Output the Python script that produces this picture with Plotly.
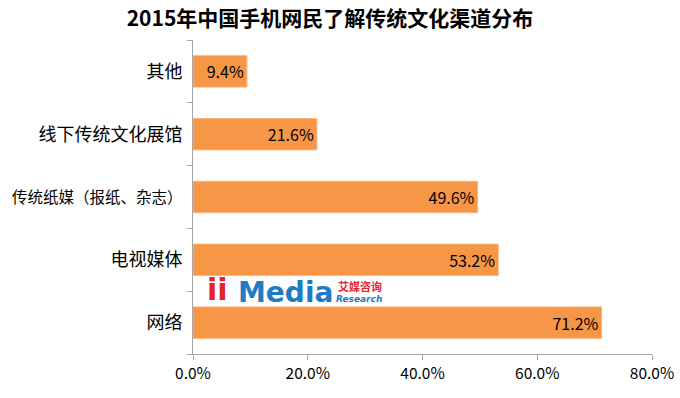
import plotly.graph_objects as go

categories = ["其他", "线下传统文化展馆", "传统纸媒（报纸、杂志）", "电视媒体", "网络"]
values = [9.4, 21.6, 49.6, 53.2, 71.2]
labels = ["9.4%", "21.6%", "49.6%", "53.2%", "71.2%"]
x_ticks = [0, 20, 40, 60, 80]
x_tick_text = ["0.0%", "20.0%", "40.0%", "60.0%", "80.0%"]

FONT = "Noto Sans CJK SC"
W, H = 680, 398
L, T = 193, 40
R = W - 652
B = H - 354
PW, PH = W - L - R, H - T - B

def px(x):
    return (x - L) / PW

def py(y):
    return (H - B - y) / PH

# long category label gets a slightly smaller size so it fits the left margin
y_tick_text = [c if len(c) < 10 else f'<span style="font-size:15.5px">{c}</span>' for c in categories]

fig = go.Figure()
fig.add_trace(go.Bar(
    y=categories, x=values, orientation="h",
    marker=dict(color="#F79646", line=dict(color="#FAB57F", width=1)),
    text=labels, textposition="inside", insidetextanchor="end", constraintext="none",
    textfont=dict(family=FONT, size=16, color="#000000"),
    cliponaxis=False, hoverinfo="skip",
))

fig.update_layout(
    width=W, height=H,
    margin=dict(l=L, r=R, t=T, b=B, autoexpand=False),
    paper_bgcolor="white", plot_bgcolor="white",
    showlegend=False, bargap=0.5,
    font=dict(family=FONT, size=15, color="#000000"),
    title=dict(text="<b>2015年中国手机网民了解传统文化渠道分布</b>",
               x=330 / W, xref="container", xanchor="center",
               y=1 - 19 / H, yref="container", yanchor="middle",
               font=dict(family=FONT, size=21, color="#000000")),
)
fig.update_xaxes(
    range=[0, 80], tickvals=x_ticks, ticktext=x_tick_text, automargin=False,
    ticklabeloverflow="allow",
    showgrid=False, zeroline=False, showline=True, linecolor="#A6A6A6", linewidth=1,
    ticks="outside", ticklen=5, tickcolor="#A6A6A6",
    tickfont=dict(family=FONT, size=15.5, color="#000000"),
)
fig.update_yaxes(
    type="category", autorange="reversed", tickson="boundaries", automargin=False,
    tickvals=categories, ticktext=y_tick_text, ticklabeloverflow="allow",
    showgrid=False, zeroline=False, showline=True, linecolor="#A6A6A6", linewidth=1,
    ticks="outside", ticklen=5, tickcolor="#A6A6A6", ticklabelstandoff=6,
    tickfont=dict(family=FONT, size=18, color="#000000"),
)

# iiMedia watermark (text approximation)
fig.add_annotation(text="<b>ii</b>", xref="paper", yref="paper",
                   x=px(217), y=py(289), xanchor="center", yanchor="middle",
                   showarrow=False, font=dict(family="DejaVu Sans", size=30, color="#E3242B"))
fig.add_annotation(text="<b>Media</b>", xref="paper", yref="paper",
                   x=px(285), y=py(292), xanchor="center", yanchor="middle",
                   showarrow=False, font=dict(family="DejaVu Sans", size=28, color="#1E7BC4"))
fig.add_annotation(text="<b>艾媒咨询</b>", xref="paper", yref="paper",
                   x=px(360), y=py(286), xanchor="center", yanchor="middle",
                   showarrow=False, font=dict(family=FONT, size=11, color="#E3242B"))
fig.add_annotation(text="<b><i>Research</i></b>", xref="paper", yref="paper",
                   x=px(359), y=py(299), xanchor="center", yanchor="middle",
                   showarrow=False, font=dict(family="DejaVu Sans", size=9, color="#1E7BC4"))

fig.write_html("out.html", config={"displayModeBar": False},
               post_script="document.body.style.margin='0';document.body.style.overflow='hidden';")
